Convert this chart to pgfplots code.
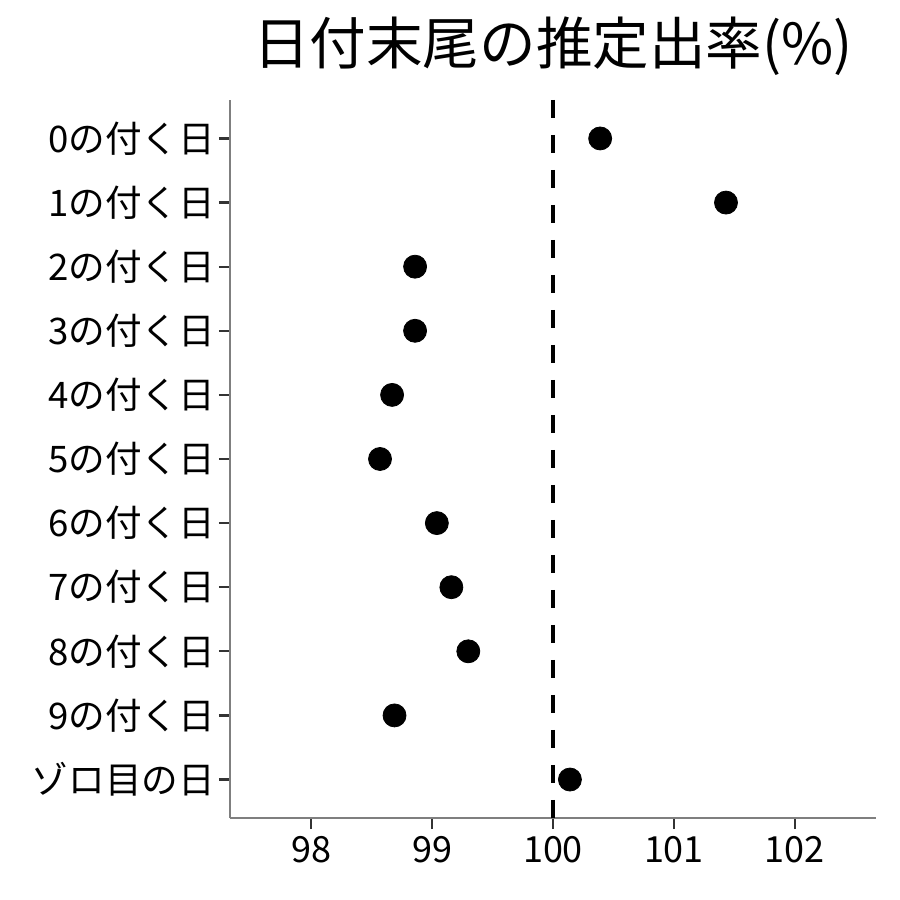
\documentclass[border=0pt]{standalone}
\usepackage{fontspec}
\setmainfont{Noto Sans CJK JP}
\usepackage{pgfplots}
\pgfplotsset{compat=1.18}
\definecolor{axgray}{HTML}{7F7F7F}
\definecolor{tickgray}{HTML}{333333}
\begin{document}
\begin{tikzpicture}
\path[use as bounding box] (0,0) rectangle (450bp,450bp);
\begin{axis}[
  at={(115bp,41bp)}, anchor=south west,
  scale only axis, width=323bp, height=359bp,
  xmin=97.33, xmax=102.67, ymin=-0.6, ymax=10.6,
  axis lines*=left,
  axis line style={axgray, line width=0.55bp},
  xtick={98,99,100,101,102},
  ytick={0,1,2,3,4,5,6,7,8,9,10},
  yticklabels={ゾロ目の日,9の付く日,8の付く日,7の付く日,6の付く日,5の付く日,4の付く日,3の付く日,2の付く日,1の付く日,0の付く日},
  tick align=outside,
  major tick length=5.5bp,
  tick style={tickgray, line width=1.1bp},
  ticklabel style={font=\fontsize{18bp}{20bp}\selectfont, text=black},
  yticklabel style={font=\fontsize{18.3bp}{20bp}\selectfont, xshift=1.5bp},
  /pgf/number format/assume math mode=true,
  clip=false,
]
\addplot[black, line width=1.8bp, dash pattern=on 9bp off 8.5bp] coordinates {(100,10.6) (100,-0.6)};
\addplot[only marks, mark=*, mark size=5.75bp, black] coordinates {
 (100.39,10) (101.43,9) (98.86,8) (98.86,7) (98.67,6) (98.57,5)
 (99.04,4) (99.16,3) (99.30,2) (98.69,1) (100.14,0)};
\end{axis}
\node[font=\fontsize{28.3bp}{30bp}\selectfont, anchor=center] at (276.5bp,427bp) {日付末尾の推定出率(\%)};
\end{tikzpicture}
\end{document}
